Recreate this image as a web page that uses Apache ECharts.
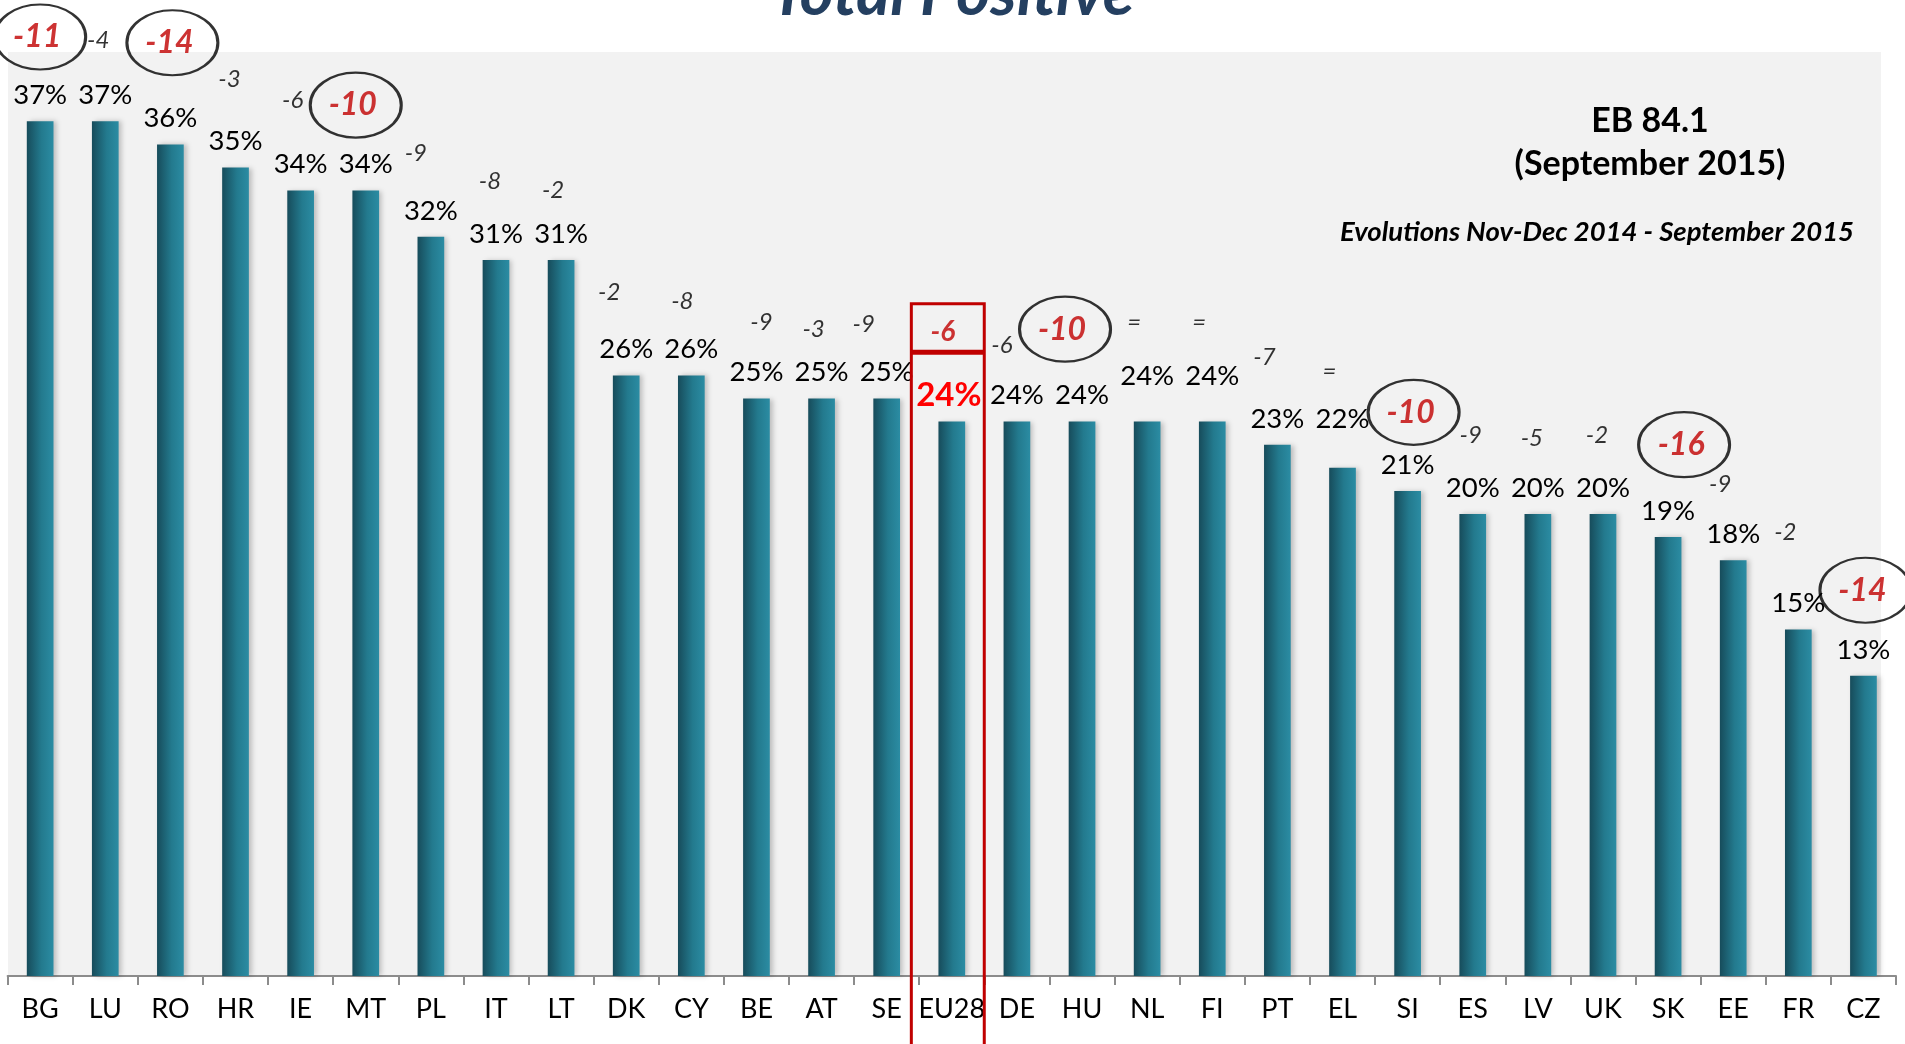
<!DOCTYPE html>
<html>
<head>
<meta charset="utf-8">
<script src="https://cdn.jsdelivr.net/npm/echarts@6/dist/echarts.min.js"></script>
<style>
  html, body { margin: 0; padding: 0; background: #fff; }
  #chart { width: 1905px; height: 1044px; }
</style>
</head>
<body>
<div id="chart"></div>
<script>
// Data
const categories = ['BG', 'LU', 'RO', 'HR', 'IE', 'MT', 'PL', 'IT', 'LT', 'DK', 'CY', 'BE', 'AT', 'SE', 'EU28',
  'DE', 'HU', 'NL', 'FI', 'PT', 'EL', 'SI', 'ES', 'LV', 'UK', 'SK', 'EE', 'FR', 'CZ'];
const values = [37, 37, 36, 35, 34, 34, 32, 31, 31, 26, 26, 25, 25, 25, 24,
  24, 24, 24, 24, 23, 22, 21, 20, 20, 20, 19, 18, 15, 13];
// evolution Nov-Dec 2014 -> Sept 2015 (0 is shown as "=")
const changes = [-11, -4, -14, -3, -6, -10, -9, -8, -2, -2, -8, -9, -3, -9, -6,
  -6, -10, 0, 0, -7, 0, -10, -9, -5, -2, -16, -9, -2, -14];

// Layout only: where each evolution note sits (axis units) and its sideways nudge (px)
const noteHeight = [40.65, 40.5, 40.4, 38.8, 37.9, 37.7, 35.6, 34.4, 34.0, 29.6, 29.2, 28.3, 28.0, 28.2, 27.9,
  27.3, 28.0, 28.3, 28.3, 26.8, 26.2, 24.4, 23.4, 23.3, 23.4, 23.0, 21.3, 19.2, 16.7];
const noteShift = [0, -7, 2, -6, -8, -10, -15, -6, -8, -17, -9, 5, -8, -23, -9,
  -15, -17, -13, -13, -13, -13, 6, -2, -6, -6, 16, -13, -13, 2];
// extra lift of some value labels (px)
const labelLift = [0, 0, 0, 0, 0, 0, 0, 0, 0, 0, 0, 0, 0, 0, 0,
  0, 0, 19, 19, 0, 23, 0, 0, 0, 0, 0, 0, 0, 0];

const FONT = 'Lato, "Open Sans", sans-serif';
const HIGHLIGHT = 'EU28';
const chart = echarts.init(document.getElementById('chart'));

const barData = values.map((v, i) => {
  const isEU = categories[i] === HIGHLIGHT;
  return {
    value: v,
    label: isEU
      ? { color: '#ff0000', fontWeight: 'bold', fontSize: 33, offset: [-3, 0], distance: 10 }
      : { offset: [0, -labelLift[i]] }
  };
});

const noteData = changes.map((c, i) => {
  const big = Math.abs(c) >= 10;
  const isEU = categories[i] === HIGHLIGHT;
  const text = c === 0 ? '=' : String(c);
  const item = {
    value: [categories[i], noteHeight[i]],
    symbolOffset: [noteShift[i], 0],
    label: { formatter: text }
  };
  if (big) {
    item.symbol = 'circle';
    item.symbolSize = [91, 65];
    item.itemStyle = { color: 'rgba(0,0,0,0)', borderColor: '#000', borderWidth: 2.6 };
    item.label.color = '#c00000';
    item.label.fontWeight = 'bold';
    item.label.fontSize = 32;
    item.label.offset = [-3, 0];
  } else if (isEU) {
    item.label.color = '#c00000';
    item.label.fontWeight = 'bold';
    item.label.fontSize = 28;
  }
  return item;
});

const options = {
  backgroundColor: '#fff',
  animation: false,
  graphic: [
    {
      // grey plot panel (stops a little short of the axis end, as in the source)
      type: 'rect', z: 0, silent: true,
      shape: { x: 8, y: 52, width: 1873, height: 924 },
      style: { fill: '#f2f2f2' }
    },
    {
      type: 'text', left: 'center', top: -38,
      style: { text: 'Total Positive', font: 'italic bold 65px ' + FONT, fill: '#243f60' }
    },
    {
      type: 'text', x: 1650, y: 121,
      style: { text: 'EB 84.1', font: 'bold 34px ' + FONT, fill: '#000', align: 'center', verticalAlign: 'middle' }
    },
    {
      type: 'text', x: 1650, y: 164,
      style: { text: '(September 2015)', font: 'bold 34px ' + FONT, fill: '#000', align: 'center', verticalAlign: 'middle' }
    },
    {
      type: 'text', x: 1597, y: 232,
      style: { text: 'Evolutions Nov-Dec 2014 - September 2015', font: 'italic bold 27.5px ' + FONT, fill: '#000', align: 'center', verticalAlign: 'middle' }
    }
  ],
  grid: {
    left: 7.6, right: 9, top: 52, bottom: 68,
    show: false
  },
  xAxis: {
    type: 'category',
    data: categories,
    axisLine: { lineStyle: { color: '#8c8c8c', width: 2 } },
    axisTick: { show: true, length: 9, lineStyle: { color: '#8c8c8c', width: 2 } },
    axisLabel: { interval: 0, color: '#000', fontSize: 27, fontFamily: FONT, margin: 20 }
  },
  yAxis: {
    type: 'value', min: 0, max: 40,
    show: false,
    splitLine: { show: false }
  },
  series: [
    {
      type: 'bar',
      data: barData,
      barWidth: '41%',
      itemStyle: {
        color: new echarts.graphic.LinearGradient(0, 0, 1, 0, [
          { offset: 0, color: '#174c5b' },
          { offset: 0.55, color: '#237a8e' },
          { offset: 1, color: '#2b8ca3' }
        ]),
        shadowColor: 'rgba(0,0,0,0.22)',
        shadowBlur: 5,
        shadowOffsetX: 3
      },
      label: {
        show: true, position: 'top', distance: 12,
        formatter: '{c}%', color: '#000', fontSize: 27.5, fontFamily: FONT
      }
    },
    {
      type: 'scatter',
      data: noteData,
      clip: false,
      symbolSize: 1,
      itemStyle: { color: 'rgba(0,0,0,0)' },
      label: {
        show: true, position: 'inside',
        color: '#000', fontSize: 24, fontStyle: 'italic', fontFamily: FONT,
        textBorderWidth: 0
      },
      z: 5
    },
    {
      // red frame around the EU average column
      type: 'custom',
      data: [[HIGHLIGHT, 29.1, 27.0]],
      clip: false,
      z: 6,
      renderItem: function (params, api) {
        const top = api.coord([api.value(0), api.value(1)]);
        const mid = api.coord([api.value(0), api.value(2)]);
        const w = api.size([1, 0])[0] * 1.12;
        const x = top[0] - w / 2 - 4;
        return {
          type: 'group',
          children: [
            {
              type: 'rect',
              shape: { x: x, y: top[1], width: w, height: api.getHeight() - top[1] + 10 },
              style: { fill: 'none', stroke: '#c00000', lineWidth: 3 }
            },
            {
              type: 'line',
              shape: { x1: x, y1: mid[1], x2: x + w, y2: mid[1] },
              style: { stroke: '#c00000', lineWidth: 5 }
            }
          ]
        };
      }
    }
  ]
};

chart.setOption(options);
</script>
</body>
</html>
